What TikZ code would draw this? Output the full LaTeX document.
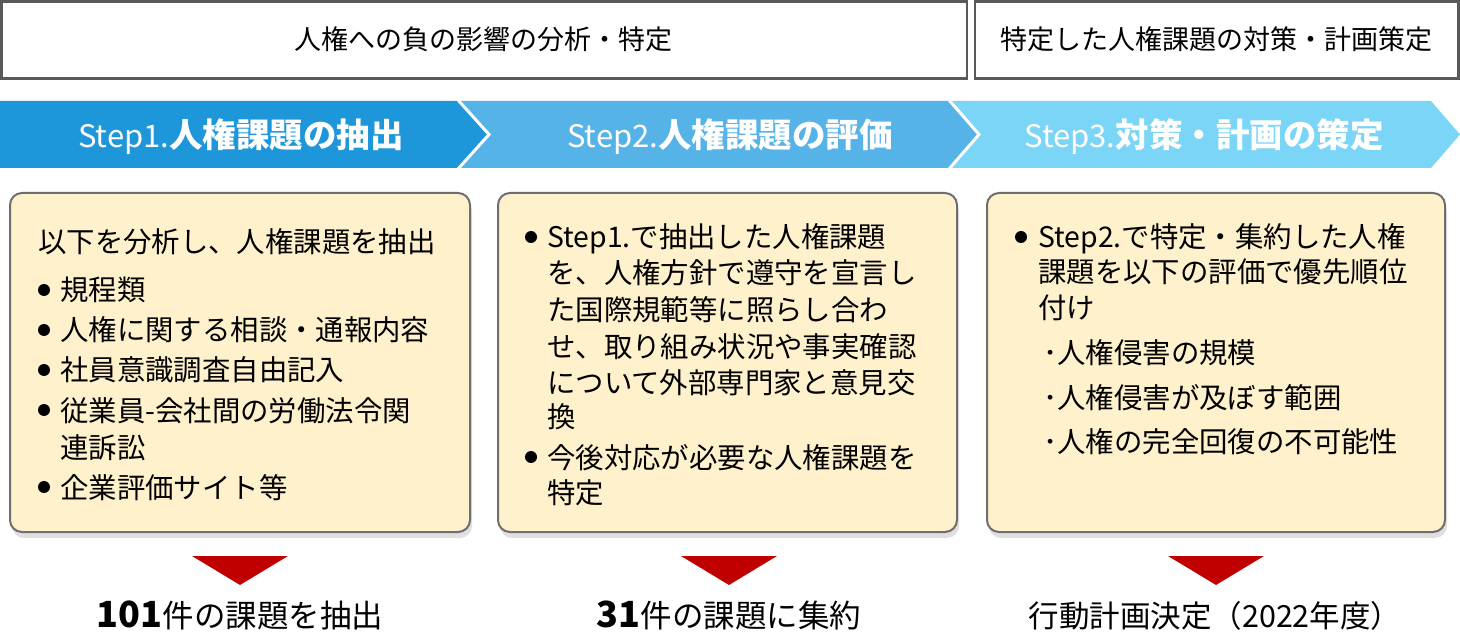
\documentclass[tikz,border=0pt]{standalone}
\usepackage{fontspec}
\setmainfont{Noto Sans CJK JP}
\usetikzlibrary{shadows}
\definecolor{hdrgray}{HTML}{595959}
\definecolor{segA}{HTML}{1E96DA}
\definecolor{segB}{HTML}{56B3E7}
\definecolor{segC}{HTML}{7BD5F6}
\definecolor{cardfill}{HTML}{FFF1CC}
\definecolor{cardborder}{HTML}{6E6E6E}
\definecolor{darkred}{HTML}{C00000}
\begin{document}
\begin{tikzpicture}[x=1pt,y=-1pt,
 hdr/.style={draw=hdrgray, line width=2.5pt, fill=white},
 hdrtext/.style={font=\fontsize{27pt}{32pt}\selectfont, anchor=base, inner sep=0pt},
 steptext/.style={text=white, anchor=base, inner sep=0pt},
 card/.style={draw=cardborder, line width=2pt, fill=cardfill, rounded corners=12pt,
   drop shadow={shadow xshift=2pt, shadow yshift=-6pt, opacity=0.12, fill=black}},
 ln/.style={anchor=base west, inner sep=0pt, font=\fontsize{28.4pt}{34pt}\selectfont},
 bul/.style={circle, fill=black, minimum size=12pt, inner sep=0pt},
 tri/.style={fill=darkred},
 res/.style={anchor=base, inner sep=0pt, font=\fontsize{31.5pt}{36pt}\selectfont}]
\useasboundingbox (0,0) rectangle (1460,636);

% header boxes
\draw[hdr] (1.5,1.5) rectangle (967,78.5);
\draw[hdr] (975,1.5) rectangle (1458.5,78.5);
\node[hdrtext] (h1) at (483,50) {人権への負の影響の分析・特定};
\node[hdrtext] (h2) at (1216,50) {特定した人権課題の対策・計画策定};

% step band
\fill[segA] (0,101) -- (458,101) -- (489,134.5) -- (458,168) -- (0,168) -- cycle;
\fill[segB] (458,101) -- (949,101) -- (979,134.5) -- (949,168) -- (458,168) -- (489,134.5) -- cycle;
\fill[segC] (949,101) -- (1431,101) -- (1460,134.5) -- (1431,168) -- (949,168) -- (979,134.5) -- cycle;
\draw[white, line width=3pt] (458,100) -- (489,134.5) -- (458,169);
\draw[white, line width=3pt] (949,100) -- (979,134.5) -- (949,169);
\node[steptext] (s1) at (241,148) {\fontsize{31pt}{36pt}\selectfont Step1.{\fontsize{33.5pt}{36pt}\selectfont\bfseries 人権課題の抽出}};
\node[steptext] (s2) at (730,148) {\fontsize{31pt}{36pt}\selectfont Step2.{\fontsize{33.5pt}{36pt}\selectfont\bfseries 人権課題の評価}};
\node[steptext] (s3) at (1204,148) {\fontsize{31pt}{36pt}\selectfont Step3.{\fontsize{33.5pt}{36pt}\selectfont\bfseries 対策・計画の策定}};

% cards
\draw[card] (10,193) rectangle (470,532);
\draw[card] (498,193) rectangle (957,532);
\draw[card] (987,193) rectangle (1445,532);

% card 1
\node[ln] (a0) at (38,253) {以下を分析し、人権課題を抽出};
\node[bul] (b11) at (44,290) {};
\node[bul] (b12) at (44,330) {};
\node[bul] (b13) at (44,370) {};
\node[bul] (b14) at (44,410) {};
\node[bul] (b15) at (44,487) {};
\node[ln] (a1) at (60,301) {規程類};
\node[ln] (a2) at (60,341) {人権に関する相談・通報内容};
\node[ln] (a3) at (60,381) {社員意識調査自由記入};
\node[ln] (a4) at (60,421) {従業員-会社間の労働法令関};
\node[ln] (a5) at (60,458) {連訴訟};
\node[ln] (a6) at (60,498) {企業評価サイト等};

% card 2
\node[bul] (b21) at (531,237) {};
\node[bul] (b22) at (531,457) {};
\node[ln] (k1) at (547,248) {Step1.で抽出した人権課題};
\node[ln] (k2) at (547,284) {を、人権方針で遵守を宣言し};
\node[ln] (k3) at (547,321) {た国際規範等に照らし合わ};
\node[ln] (k4) at (547,358) {せ、取り組み状況や事実確認};
\node[ln] (k5) at (547,394) {について外部専門家と意見交};
\node[ln] (k6) at (547,428) {換};
\node[ln] (k7) at (547,468) {今後対応が必要な人権課題を};
\node[ln] (k8) at (547,503) {特定};

% card 3
\node[bul] (b31) at (1021,237) {};
\node[ln] (m1) at (1038,248) {Step2.で特定・集約した人権};
\node[ln] (m2) at (1038,283) {課題を以下の評価で優先順位};
\node[ln] (m3) at (1038,319) {付け};
\node[ln] (m4) at (1043,364) {･人権侵害の規模};
\node[ln] (m5) at (1043,409) {･人権侵害が及ぼす範囲};
\node[ln] (m6) at (1043,453) {･人権の完全回復の不可能性};

% triangles
\fill[tri] (192,556) -- (288,556) -- (240,585) -- cycle;
\fill[tri] (681,556) -- (777,556) -- (729,585) -- cycle;
\fill[tri] (1168,556) -- (1264,556) -- (1216,585) -- cycle;

% results
\node[res] (r1) at (240,627) {{\fontsize{36pt}{40pt}\selectfont\bfseries 101}件の課題を抽出};
\node[res] (r2) at (729,627) {{\fontsize{36pt}{40pt}\selectfont\bfseries 31}件の課題に集約};
\node[res, font=\fontsize{30.5pt}{36pt}\selectfont] (r3) at (1215,627) {行動計画決定（2022年度）};
\end{tikzpicture}
\end{document}
